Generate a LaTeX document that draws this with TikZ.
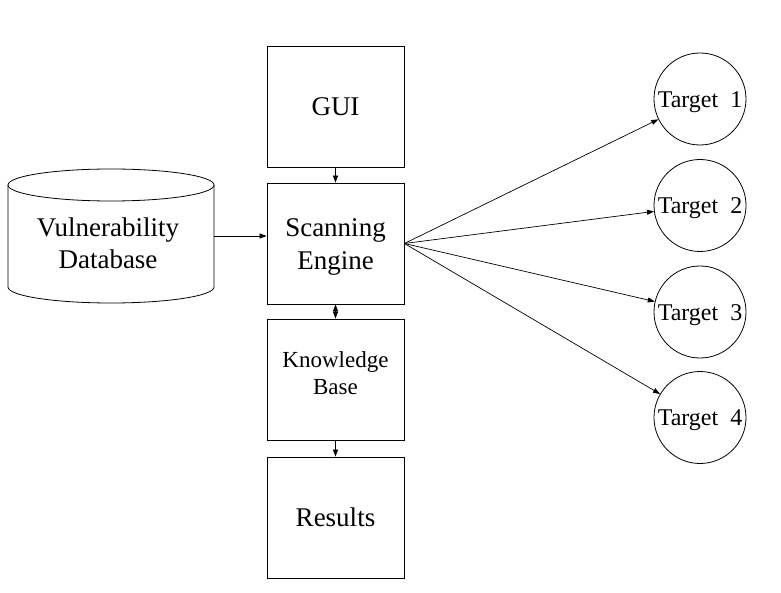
\documentclass[tikz,border=0pt]{standalone}
\usepackage{fontspec}
\setmainfont{Liberation Serif}
\usetikzlibrary{arrows.meta}
\newcommand\mvtxt[2]{\raisebox{#1}[\height][\depth]{\begin{tabular}{@{}c@{}}#2\end{tabular}}}
\begin{document}
\begin{tikzpicture}[x=1pt,y=-1pt,
  box/.style={draw, line width=0.8pt, minimum width=137pt, minimum height=121pt, inner sep=0pt, align=center, font=\fontsize{27}{33}\selectfont},
  tgt/.style={draw, line width=0.8pt, circle, minimum size=92pt, inner sep=0pt, font=\fontsize{24}{26}\selectfont},
  conn/.style={line width=0.7pt, -{Triangle[length=7pt,width=5pt]}},
]
\useasboundingbox (0,0) rectangle (781,593);
\fill[white] (0,0) rectangle (781,593);
\node[box] (gui) at (335.5,106.5) {GUI};
\node[box] (se) at (335.5,243.5) {\mvtxt{-3pt}{Scanning\\Engine}};
\node[box, font=\fontsize{23}{27}\selectfont] (kb) at (335.5,379.5) {\mvtxt{4pt}{Knowledge\\Base}};
\node[box] (res) at (335.5,517.5) {Results};
% cylinder
\draw[line width=0.8pt] (8,185) -- (8,287) arc[start angle=180, end angle=0, x radius=103, y radius=16] -- (214,185);
\draw[line width=0.8pt] (111,185) ellipse[x radius=103, y radius=16];
\node[align=center, inner sep=0pt, font=\fontsize{27}{32}\selectfont] (db) at (108,243) {Vulnerability\\Database};
\coordinate (dbE) at (214,236);
\node[tgt] (t1) at (700,99) {\mvtxt{-3pt}{Target\ \ 1}};
\node[tgt] (t2) at (700,205.5) {\mvtxt{-3pt}{Target\ \ 2}};
\node[tgt] (t3) at (700,312) {\mvtxt{-3pt}{Target\ \ 3}};
\node[tgt] (t4) at (700,417.5) {\mvtxt{-3pt}{Target\ \ 4}};
\draw[conn] (gui.south) -- (se.north);
\draw[conn] (kb.south) -- (res.north);
\draw[line width=0.7pt, {Triangle[length=7pt,width=5pt]}-{Triangle[length=7pt,width=5pt]}] (se.south) -- (kb.north);
\draw[conn] (dbE) -- (dbE -| se.west);
\foreach \t in {t1,t2,t3,t4} \draw[conn] (se.east) -- (\t);
\end{tikzpicture}
\end{document}
